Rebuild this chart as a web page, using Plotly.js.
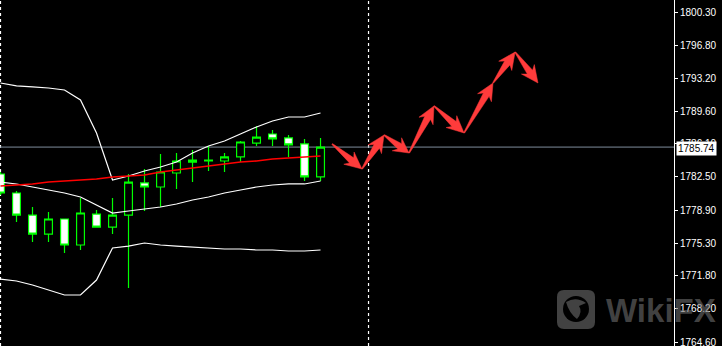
<!DOCTYPE html>
<html>
<head>
<meta charset="utf-8">
<script src="https://cdn.plot.ly/plotly-3.0.1.min.js"></script>
<style>html,body{margin:0;padding:0;background:#000;}#chart{width:722px;height:346px;}</style>
</head>
<body>
<div id="chart"></div>
<script>
// ---- data ----
const barIndex = [0,1,2,3,4,5,6,7,8,9,10,11,12,13,14,15,16,17,18,19,20];
const opens  = [1782.82,1780.76,1778.37,1776.31,1777.94,1775.12,1778.48,1777.07,1778.37,1781.85,1781.41,1782.93,1784.12,1784.23,1784.23,1784.67,1786.18,1787.16,1786.73,1786.08,1782.50];
const highs  = [1783.04,1780.98,1779.24,1778.70,1777.98,1780.22,1778.92,1780.22,1782.82,1783.36,1784.99,1785.10,1785.42,1785.86,1785.10,1786.40,1788.03,1787.59,1787.05,1786.62,1786.73];
const lows   = [1780.54,1777.62,1775.45,1775.45,1774.25,1774.58,1777.05,1776.31,1770.46,1778.81,1779.24,1781.19,1781.95,1783.15,1783.04,1784.12,1785.86,1785.86,1784.67,1782.06,1782.06];
const closes = [1780.76,1778.37,1776.31,1777.94,1775.12,1778.59,1777.07,1778.37,1781.95,1781.41,1783.04,1784.23,1784.34,1784.34,1784.67,1786.29,1786.83,1786.62,1785.97,1782.50,1785.74];

const bbUpper  = [1792.69,1792.37,1792.26,1792.15,1791.93,1790.85,1787.27,1782.17,1782.60,1783.15,1783.58,1784.12,1785.10,1785.86,1786.40,1787.16,1787.92,1788.57,1789.00,1789.00,1789.44];
const bbMiddle = [1781.95,1781.74,1781.41,1781.09,1780.76,1780.33,1779.46,1778.59,1778.81,1779.03,1779.24,1779.57,1780.00,1780.33,1780.76,1781.09,1781.41,1781.63,1781.74,1781.74,1782.06];
const bbLower  = [1771.43,1771.22,1770.78,1770.24,1769.70,1769.70,1771.32,1774.80,1775.01,1775.34,1775.12,1775.01,1774.90,1774.80,1774.69,1774.69,1774.58,1774.58,1774.47,1774.47,1774.58];
const maRed    = [1781.52,1781.63,1781.74,1781.95,1782.06,1782.17,1782.28,1782.50,1782.60,1782.71,1783.04,1783.26,1783.47,1783.69,1783.91,1784.12,1784.23,1784.45,1784.56,1784.67,1784.77];

// forecast zigzag waypoints (bar index, price)
const arrowX = [20.72,22.59,23.97,25.53,27.09,28.97,30.78,32.16,33.59];
const arrowY = [1786.08,1783.36,1787.05,1785.10,1790.20,1787.27,1792.69,1796.05,1792.69];

const separators = [0, 23];
const bidPrice = 1785.74;
const tickVals = [1764.60,1768.20,1771.80,1775.30,1778.90,1782.50,1786.10,1789.60,1793.20,1796.80,1800.30];
const tickText = ['1764.60','1768.20','1771.80','1775.30','1778.90','1782.50','1786.10','1789.60','1793.20','1796.80','1800.30'];

// ---- layout geometry ----
const W = 722, H = 346, MR = 48;
const PW = W - MR, PH = H;
const xr = [-0.031, 42.09];
const yr = [1764.17, 1801.69];
const toPx = (x,y)=>[(x-xr[0])/(xr[1]-xr[0])*PW, (yr[1]-y)/(yr[1]-yr[0])*PH];
const fromPx = (px,py)=>[xr[0]+px/PW*(xr[1]-xr[0]), yr[1]-py/PH*(yr[1]-yr[0])];

// build arrow polygons
const polyX = [], polyY = [];
for (let i=0;i<arrowX.length-1;i++){
  const [tx,ty] = toPx(arrowX[i],arrowY[i]);
  const [hx,hy] = toPx(arrowX[i+1],arrowY[i+1]);
  const L = Math.hypot(hx-tx,hy-ty);
  const ux=(hx-tx)/L, uy=(hy-ty)/L, nx=-uy, ny=ux;
  const hl = Math.min(15, L*0.42), hw = 8, sw = 3.3, tw = 0.5, back = 2;
  const bx = hx-ux*hl, by = hy-uy*hl;
  const pts = [
    [tx+nx*tw, ty+ny*tw],
    [bx+ux*1.5+nx*sw, by+uy*1.5+ny*sw],
    [bx-ux*back+nx*hw, by-uy*back+ny*hw],
    [hx,hy],
    [bx-ux*back-nx*hw, by-uy*back-ny*hw],
    [bx+ux*1.5-nx*sw, by+uy*1.5-ny*sw],
    [tx-nx*tw, ty-ny*tw]
  ];
  pts.forEach(p=>{const d=fromPx(p[0],p[1]); polyX.push(d[0]); polyY.push(d[1]);});
  polyX.push(null); polyY.push(null);
}

const traces = [
  {type:'scatter', mode:'lines', x:barIndex, y:bbUpper, line:{color:'#ffffff', width:1.2}, hoverinfo:'skip'},
  {type:'scatter', mode:'lines', x:barIndex, y:bbMiddle, line:{color:'#ffffff', width:1.2}, hoverinfo:'skip'},
  {type:'scatter', mode:'lines', x:barIndex, y:bbLower, line:{color:'#ffffff', width:1.2}, hoverinfo:'skip'},
  {type:'candlestick', x:barIndex, open:opens, high:highs, low:lows, close:closes,
   increasing:{line:{color:'#00ff00', width:1.2}, fillcolor:'#000000'},
   decreasing:{line:{color:'#00ff00', width:1.2}, fillcolor:'#ffffff'},
   whiskerwidth:0, hoverinfo:'skip'},
  {type:'scatter', mode:'lines', x:barIndex, y:maRed, line:{color:'#ff0000', width:1.6}, hoverinfo:'skip'},
  {type:'scatter', mode:'lines', x:polyX, y:polyY, fill:'toself', fillcolor:'#ff3b3b',
   line:{color:'#ff3b3b', width:0.5}, connectgaps:false, hoverinfo:'skip'}
];

// watermark icon geometry (paper coords)
const px2 = (x)=>x/PW, py2=(y)=>1-y/PH;
function roundRect(x0,y0,x1,y1,r){
  const X=px2, Y=py2;
  return `M ${X(x0+r)} ${Y(y0)} L ${X(x1-r)} ${Y(y0)} Q ${X(x1)} ${Y(y0)} ${X(x1)} ${Y(y0+r)} L ${X(x1)} ${Y(y1-r)} Q ${X(x1)} ${Y(y1)} ${X(x1-r)} ${Y(y1)} L ${X(x0+r)} ${Y(y1)} Q ${X(x0)} ${Y(y1)} ${X(x0)} ${Y(y1-r)} L ${X(x0)} ${Y(y0+r)} Q ${X(x0)} ${Y(y0)} ${X(x0+r)} ${Y(y0)} Z`;
}

const shapes = [];
separators.forEach(s=>shapes.push({type:'line', xref:'x', yref:'paper', x0:s, x1:s, y0:0, y1:1,
  line:{color:'#ffffff', width:1.2, dash:'3px,3px'}, layer:'below'}));
shapes.push({type:'line', xref:'paper', yref:'y', x0:0, x1:1, y0:bidPrice, y1:bidPrice,
  line:{color:'#7f8c9c', width:1}, layer:'below'});
shapes.push({type:'path', xref:'paper', yref:'paper', path:roundRect(557,290,595,329,7),
  fillcolor:'rgba(110,110,110,0.6)', line:{width:0}, layer:'above'});
shapes.push({type:'circle', xref:'paper', yref:'paper', x0:px2(563), x1:px2(589), y0:py2(322), y1:py2(296),
  fillcolor:'#000000', line:{width:0}, layer:'above'});
shapes.push({type:'path', xref:'paper', yref:'paper',
  path:`M ${px2(566)} ${py2(302)} Q ${px2(576)} ${py2(296)} ${px2(586)} ${py2(303)} L ${px2(579)} ${py2(306)} Q ${px2(583)} ${py2(312)} ${px2(577)} ${py2(319)} Q ${px2(569)} ${py2(313)} ${px2(566)} ${py2(302)} Z`,
  fillcolor:'rgba(110,110,110,0.6)', line:{width:0}, layer:'above'});

const layout = {
  width:W, height:H,
  margin:{l:0, r:MR, t:0, b:0, pad:0},
  paper_bgcolor:'#000000', plot_bgcolor:'#000000',
  showlegend:false,
  font:{family:'Liberation Sans, Arial, sans-serif', color:'#ffffff', size:10},
  xaxis:{range:xr, visible:false, fixedrange:true, rangeslider:{visible:false}},
  yaxis:{range:yr, side:'right', showgrid:false, zeroline:false, showline:true, linecolor:'#ffffff', linewidth:1,
    ticks:'outside', ticklen:3, tickcolor:'#ffffff', tickwidth:1, tickmode:'array', tickvals:tickVals, ticktext:tickText,
    ticklabeloverflow:'allow',
    tickfont:{family:'Liberation Sans, Arial, sans-serif', size:10, color:'#ffffff'}, fixedrange:true},
  shapes:shapes,
  annotations:[
    {xref:'paper', yref:'y', x:1, y:bidPrice, xanchor:'left', yanchor:'middle', xshift:2, yshift:-1,
     text:'1785.74', showarrow:false, bgcolor:'#ffffff', borderpad:1,
     font:{family:'Liberation Sans, Arial, sans-serif', size:10, color:'#000000'}},
    {xref:'paper', yref:'paper', x:px2(604), y:py2(310), xanchor:'left', yanchor:'middle',
     text:'<b>WikiFX</b>', showarrow:false,
     font:{family:'Liberation Sans, Arial, sans-serif', size:33, color:'rgba(110,110,110,0.6)'}}
  ]
};

Plotly.newPlot('chart', traces, layout, {displayModeBar:false, staticPlot:true});
</script>
</body>
</html>
